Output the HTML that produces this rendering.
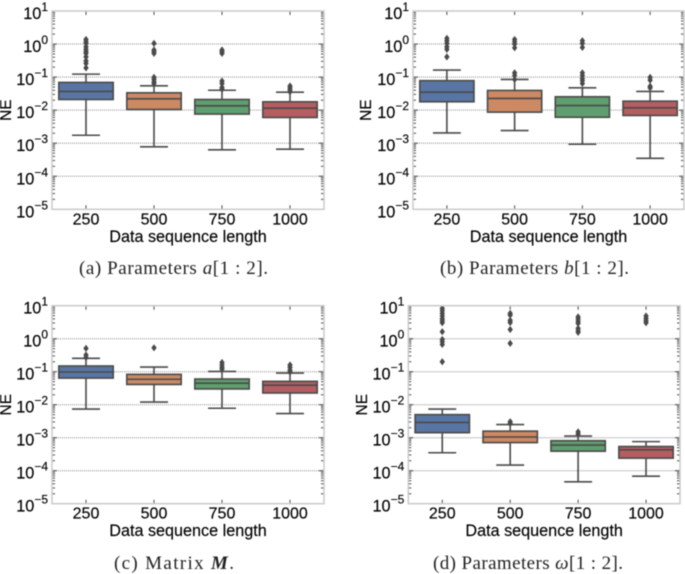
<!DOCTYPE html>
<html lang="en">
<head>
<meta charset="utf-8">
<title>NE box plots</title>
<style>
html,body{margin:0;padding:0;background:#fff;}
body{width:685px;height:574px;overflow:hidden;}
svg{display:block;filter:blur(0.45px);}
.sans{font-family:"Liberation Sans",Arial,sans-serif;fill:#000;stroke:#000;stroke-width:0.15px;}
.cap{font-family:"Liberation Serif","DejaVu Serif",serif;font-size:19px;fill:#222;}
</style>
</head>
<body>
<svg id="figure" xmlns="http://www.w3.org/2000/svg" width="685" height="574" viewBox="0 0 685 574">
  <rect width="685" height="574" fill="#fff"/>
  <g id="panel-a"></g>
  <g id="panel-b"></g>
  <g id="panel-c"></g>
  <g id="panel-d"></g>
  <text class="cap" x="79" y="274" textLength="189" lengthAdjust="spacing">(a) Parameters <tspan font-style="italic">a</tspan>[1 : 2].</text>
  <text class="cap" x="440" y="274" textLength="189" lengthAdjust="spacing">(b) Parameters <tspan font-style="italic">b</tspan>[1 : 2].</text>
  <text class="cap" x="114" y="569" textLength="120" lengthAdjust="spacing">(c) Matrix <tspan font-style="italic" font-weight="bold">M</tspan>.</text>
  <text class="cap" x="433" y="569" textLength="190" lengthAdjust="spacing">(d) Parameters <tspan font-style="italic">ω</tspan>[1 : 2].</text>
</svg>
<script>
var categories = ['250', '500', '750', '1000'];
var yExponents = [1, 0, -1, -2, -3, -4, -5];
var xAxisTitle = 'Data sequence length';
var yAxisTitle = 'NE';

// Each box: [lower whisker, Q1, median, Q3, upper whisker]
var statsA = [
  [0.00174, 0.021, 0.0368, 0.069, 0.123],
  [0.00078, 0.0105, 0.022, 0.0335, 0.0546],
  [0.00063, 0.0076, 0.0135, 0.021, 0.040],
  [0.00066, 0.006, 0.0115, 0.0179, 0.035]
];
var outliersA = [
  [1.38, 1.18, 1.05, 0.83, 0.69, 0.59, 0.52, 0.41, 0.31, 0.26, 0.19],
  [1.05, 0.66, 0.59, 0.52, 0.098, 0.085, 0.072, 0.064],
  [0.66, 0.59, 0.52, 0.076, 0.064, 0.049, 0.043],
  [0.054, 0.047, 0.041, 0.036]
];
var statsB = [
  [0.00204, 0.0179, 0.035, 0.078, 0.163],
  [0.00242, 0.0087, 0.0226, 0.0394, 0.085],
  [0.00093, 0.0061, 0.0138, 0.0254, 0.0475],
  [0.00035, 0.0069, 0.0118, 0.0187, 0.0368]
];
var outliersB = [
  [1.49, 1.26, 1.05, 0.83, 0.69, 0.41],
  [1.38, 1.18, 1.0, 0.77, 0.135, 0.112, 0.085],
  [1.26, 1.05, 0.79, 0.135, 0.112, 0.091, 0.078, 0.064],
  [0.098, 0.081, 0.053, 0.047]
];
var statsC = [
  [0.0074, 0.064, 0.098, 0.149, 0.254],
  [0.012, 0.041, 0.059, 0.083, 0.138],
  [0.0078, 0.03, 0.045, 0.06, 0.102],
  [0.0054, 0.0226, 0.039, 0.051, 0.091]
];
var outliersC = [
  [0.51, 0.32, 0.27],
  [0.53],
  [0.19, 0.16, 0.135, 0.12],
  [0.16, 0.135, 0.112, 0.098]
];
var statsD = [
  [0.00035, 0.00142, 0.0029, 0.005, 0.0074],
  [0.000148, 0.00071, 0.00105, 0.00158, 0.0025],
  [0.000046, 0.00039, 0.0006, 0.00081, 0.00112],
  [0.000068, 0.00024, 0.00043, 0.00054, 0.00076]
];
var outliersD = [
  [8.3, 7.05, 5.87, 4.87, 4.04, 3.51, 3.05, 1.63, 0.95, 0.81, 0.67, 0.2],
  [5.87, 5.2, 3.6, 3.1, 1.9, 0.72, 0.00305, 0.0027],
  [4.6, 3.95, 3.35, 2.92, 2.06, 1.75, 1.55, 0.0015, 0.00128],
  [4.87, 4.1, 3.5, 3.05]
];
var boxColors = ['#5875a4', '#cc8963', '#5f9e6e', '#b55d60'];

var NS = 'http://www.w3.org/2000/svg';
var INK = '#4a4a4a';

function mk(tag, attrs, parent) {
  var el = document.createElementNS(NS, tag);
  for (var k in attrs) { el.setAttribute(k, attrs[k]); }
  parent.appendChild(el);
  return el;
}

function drawPanel(id, L, stats, outliers) {
  var root = document.getElementById(id);
  var R = L.left + L.width, B = L.top + L.height;
  var maxExp = yExponents[0], minExp = yExponents[yExponents.length - 1];
  function yScale(v) {
    return L.top + (maxExp - Math.log10(v)) / (maxExp - minExp) * L.height;
  }
  function xScale(i) {
    return L.left + (i + 0.5) * L.width / categories.length;
  }
  var clipId = id + '-clip';
  var clip = mk('clipPath', {id: clipId}, root);
  mk('rect', {x: L.left, y: L.top, width: L.width, height: L.height}, clip);

  // grid lines and y ticks
  yExponents.forEach(function (e) {
    var y = yScale(Math.pow(10, e));
    if (e !== maxExp && e !== minExp) {
      var grid = mk('line', {x1: L.left, x2: R, y1: y, y2: y, stroke: '#8c8c8c', 'stroke-width': 1, 'stroke-dasharray': '1 1'}, root);
      
      
    }
    [[L.left, 1], [R, -1]].forEach(function (side) {
      var major = mk('line', {x1: side[0], x2: side[0] + side[1] * 5, y1: y, y2: y, stroke: INK, 'stroke-width': 1}, root);
      
      
      if (e === minExp) { return; }
      for (var m = 2; m <= 9; m++) {
        var ym = yScale(m * Math.pow(10, e - 1));
        if (e - 1 < minExp) { continue; }
        var minor = mk('line', {x1: side[0], x2: side[0] + side[1] * 3, y1: ym, y2: ym, stroke: INK, 'stroke-width': 1}, root);
        
        
      }
    });
    var label = mk('text', {x: L.left - 4, y: y + 8, 'text-anchor': 'end', 'class': 'sans', 'font-size': 16.3}, root);
    
    
    var base = mk('tspan', {}, label);
    base.textContent = '10';
    var sup = mk('tspan', {dy: -8, 'font-size': 12}, label);
    sup.textContent = e < 0 ? '\u2212' + Math.abs(e) : String(e);
  });

  // boxes
  stats.forEach(function (s, i) {
    var cx = xScale(i);
    var g = mk('g', {'clip-path': 'url(#' + clipId + ')'}, root);
    
    
    var halfBox = 0.4 * L.width / categories.length;
    var halfCap = halfBox / 2 + 0.4;
    var w1 = mk('line', {x1: cx, x2: cx, y1: yScale(s[1]), y2: yScale(s[0]), stroke: INK, 'stroke-width': 1.6}, g);
    
    
    var w2 = mk('line', {x1: cx, x2: cx, y1: yScale(s[3]), y2: yScale(s[4]), stroke: INK, 'stroke-width': 1.6}, g);
    
    
    var c1 = mk('line', {x1: cx - halfCap, x2: cx + halfCap, y1: yScale(s[0]), y2: yScale(s[0]), stroke: INK, 'stroke-width': 1.6}, g);
    
    
    var c2 = mk('line', {x1: cx - halfCap, x2: cx + halfCap, y1: yScale(s[4]), y2: yScale(s[4]), stroke: INK, 'stroke-width': 1.6}, g);
    
    
    var box = mk('rect', {x: cx - halfBox, width: halfBox * 2, y: yScale(s[3]), height: yScale(s[1]) - yScale(s[3]), fill: boxColors[i], stroke: INK, 'stroke-width': 1.6}, g);
    
    
    var med = mk('line', {x1: cx - halfBox, x2: cx + halfBox, y1: yScale(s[2]), y2: yScale(s[2]), stroke: INK, 'stroke-width': 1.6}, g);
    
    
    outliers[i].forEach(function (v) {
      var y = yScale(v);
      var pts = [cx, y - 3.6, cx + 2.7, y, cx, y + 3.6, cx - 2.7, y].join(' ');
      var d = mk('polygon', {points: pts, fill: INK}, g);
      
      
    });

    // x ticks and labels
    var t1 = mk('line', {x1: cx, x2: cx, y1: L.top, y2: L.top + 4, stroke: INK, 'stroke-width': 1}, root);
    
    
    var t2 = mk('line', {x1: cx, x2: cx, y1: B, y2: B - 4, stroke: INK, 'stroke-width': 1}, root);
    
    
    var lab = mk('text', {x: cx, y: B + 15, 'text-anchor': 'middle', 'class': 'sans', 'font-size': 16}, root);
    
    
    lab.textContent = categories[i];
  });

  var frame = mk('rect', {x: L.left, y: L.top, width: L.width, height: L.height, fill: 'none', stroke: '#cccccc', 'stroke-width': 1.6}, root);
  
  

  var xt = mk('text', {x: L.left + L.width * 0.5, y: B + 32.5, 'text-anchor': 'middle', 'class': 'sans', 'font-size': 16.2}, root);
  
  
  xt.textContent = xAxisTitle;

  var yMid = L.top + L.height / 2;
  var yt = mk('text', {x: L.titleX, y: yMid, 'text-anchor': 'middle', 'class': 'sans', 'font-size': 15.5, transform: 'rotate(-90 ' + L.titleX + ' ' + yMid + ')'}, root);
  
  
  yt.textContent = yAxisTitle;
}

drawPanel('panel-a', {left: 52, top: 11, width: 272, height: 198.3, titleX: 11}, statsA, outliersA);
drawPanel('panel-b', {left: 413, top: 11, width: 271, height: 198.3, titleX: 371}, statsB, outliersB);
drawPanel('panel-c', {left: 52, top: 305.7, width: 272, height: 198, titleX: 11}, statsC, outliersC);
drawPanel('panel-d', {left: 408.3, top: 305.7, width: 271.7, height: 198, titleX: 367}, statsD, outliersD);
</script>
</body>
</html>
